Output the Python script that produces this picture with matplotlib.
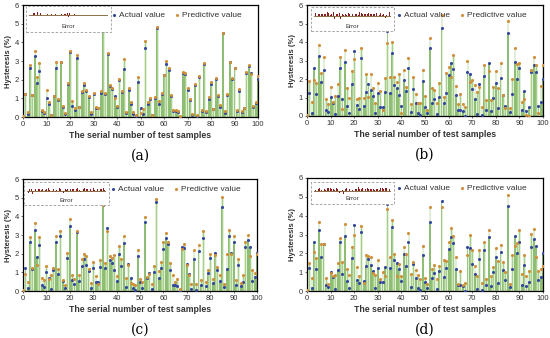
import matplotlib
matplotlib.use("Agg")
import matplotlib.pyplot as plt
import numpy as np
from matplotlib.patches import Rectangle

plt.rcParams["font.family"] = ["Liberation Sans", "DejaVu Sans"]

samples = list(range(0, 101))

actual = [0.0, 1.22, 0.18, 2.6, 1.17, 3.26, 1.82, 2.49, 0.31, 0.22, 1.01,
          0.72, 0.09, 1.1, 2.61, 0.9, 2.92, 0.54, 0.18, 1.75, 3.5,
          0.61, 0.4, 3.15, 0.52, 1.32, 1.71, 1.39, 1.06, 0.18, 1.24,
          0.49, 0.49, 1.28, 4.61, 1.24, 3.39, 1.66, 1.51, 1.15, 0.54,
          1.96, 1.35, 2.58, 0.2, 1.44, 0.68, 0.18, 0.04, 1.89, 0.47,
          0.14, 3.69, 0.68, 0.94, 0.1, 1.04, 4.76, 0.72, 1.24, 2.23,
          2.85, 2.54, 1.15, 0.32, 0.32, 0.25, 0.0, 2.36, 2.29, 1.44,
          0.9, 0.09, 1.71, 0.04, 2.16, 0.31, 2.85, 0.25, 0.99, 1.78,
          0.41, 2.05, 1.12, 0.56, 4.49, 0.22, 1.19, 2.94, 2.02, 2.6,
          0.32, 1.37, 0.27, 0.47, 2.36, 2.74, 2.38, 0.56, 0.74, 2.02]

pred_a = [0.05, 1.25, 0.25, 2.8, 1.2, 3.55, 2.15, 2.9, 0.35, 0.25, 1.45,
          0.8, 0.1, 1.15, 2.97, 0.95, 2.97, 0.6, 0.2, 1.8, 3.52,
          0.85, 0.5, 3.32, 0.55, 1.4, 1.8, 1.45, 1.15, 0.25, 1.3,
          0.55, 0.5, 1.38, 4.65, 1.3, 3.45, 1.72, 1.55, 1.0, 0.6,
          2.05, 1.4, 3.1, 0.25, 1.55, 0.8, 0.25, 0.1, 2.15, 0.2,
          0.45, 4.07, 0.8, 1.0, 0.1, 1.05, 4.8, 0.85, 1.3, 2.25,
          3.0, 2.6, 1.2, 0.35, 0.35, 0.3, 0.05, 2.4, 2.35, 1.55,
          0.95, 0.15, 1.75, 0.1, 2.2, 0.35, 2.87, 0.3, 1.05, 1.85,
          0.45, 2.1, 1.2, 0.65, 4.52, 0.3, 1.25, 2.97, 2.1, 2.62,
          0.35, 1.5, 0.3, 0.5, 2.4, 2.77, 2.3, 0.6, 0.78, 2.2]

pred_b = [0.05, 1.87, 0.77, 1.95, 1.77, 3.86, 2.3, 3.17, 0.9, 0.65, 1.55,
          0.77, 1.1, 1.71, 3.17, 0.38, 3.57, 1.5, 1.0, 2.45, 3.06,
          0.9, 0.95, 3.66, 1.0, 2.27, 1.04, 2.27, 1.5, 0.68, 1.8,
          1.37, 0.32, 2.04, 3.93, 2.13, 4.02, 2.09, 1.86, 2.27, 0.14,
          2.49, 1.55, 3.12, 0.65, 2.13, 1.19, 0.72, 0.68, 2.49, 1.08,
          0.32, 4.2, 1.5, 1.41, 0.68, 1.77, 5.46, 1.04, 2.3, 2.67,
          2.13, 3.3, 1.62, 0.65, 1.19, 0.65, 0.5, 2.99, 1.86, 1.95,
          1.68, 1.32, 1.55, 0.47, 2.74, 0.86, 2.45, 0.86, 1.55, 2.45,
          1.5, 2.88, 1.13, 0.41, 5.15, 0.41, 1.98, 3.69, 2.81, 2.88,
          0.77, 0.9, 0.05, 0.0, 2.49, 3.21, 2.74, 0.18, 1.62, 2.76]

pred_c = [0.05, 0.93, 0.48, 2.88, 1.23, 3.65, 1.37, 2.88, 0.69, 0.57, 1.33,
          0.66, 0.87, 1.25, 2.92, 1.19, 3.22, 0.6, 0.3, 2.05, 3.84,
          0.87, 0.62, 3.24, 0.84, 1.69, 1.99, 1.9, 1.19, 0.44, 1.58,
          0.8, 0.39, 1.64, 4.6, 1.5, 3.24, 1.87, 1.76, 1.94, 0.8,
          2.4, 1.73, 2.97, 0.69, 1.37, 0.43, 0.39, 0.34, 2.17, 0.66,
          0.48, 3.99, 0.75, 0.93, 0.37, 1.32, 4.93, 1.09, 1.55, 2.65,
          3.1, 2.62, 1.51, 0.87, 0.48, 0.66, 0.09, 2.26, 2.53, 1.37,
          0.84, 0.39, 2.17, 0.39, 2.44, 0.57, 3.22, 0.48, 1.1, 1.96,
          0.66, 1.94, 1.28, 0.87, 5.02, 0.37, 1.99, 3.27, 1.99, 2.97,
          0.57, 1.73, 0.43, 0.84, 2.62, 3.02, 1.87, 1.1, 0.98, 1.99]

pred_d = [0.05, 1.51, 0.68, 2.08, 1.73, 3.68, 2.49, 2.47, 0.71, 0.36, 0.98,
          0.77, 0.84, 1.48, 2.81, 1.55, 3.56, 1.19, 0.84, 2.31, 2.99,
          1.3, 0.77, 3.47, 0.44, 1.9, 1.87, 1.83, 0.98, 0.84, 1.64,
          0.62, 1.01, 0.8, 4.36, 1.83, 3.77, 1.96, 0.8, 1.42, 0.77,
          2.35, 1.96, 3.08, 0.89, 1.55, 1.09, 0.84, 0.62, 2.4, 0.71,
          0.36, 4.48, 1.16, 1.37, 0.62, 1.33, 4.45, 1.65, 1.6, 2.62,
          3.33, 2.94, 1.78, 0.36, 1.07, 0.3, 0.44, 1.9, 2.99, 2.17,
          1.33, 0.8, 2.17, 0.44, 2.62, 0.66, 3.24, 0.8, 1.3, 2.26,
          1.6, 2.44, 1.55, 1.01, 5.11, 0.36, 1.9, 2.37, 2.54, 3.24,
          0.89, 1.9, 0.77, 1.07, 3.02, 3.29, 1.83, 1.07, 1.16, 1.33]

panel_labels = ["(a)", "(b)", "(c)", "(d)"]
predictions = [pred_a, pred_b, pred_c, pred_d]

# layout in pixels (left, top, right, bottom)
axes_px = [(23, 5, 258, 117), (307, 5, 543, 116),
           (23, 179, 257, 291), (307, 178, 543, 291)]
inset_px = [(26, 6, 111, 32), (311, 7, 394, 31),
            (24, 182, 109, 205), (311, 182, 394, 204)]

W, H = 550, 338
fig = plt.figure(figsize=(W / 100, H / 100), dpi=100)

blue = "#34489c"
orange = "#d08f3a"

x = np.array(samples)
act = np.array(actual)

for i in range(4):
    l, t, r, b = axes_px[i]
    ax = fig.add_axes([l / W, 1 - b / H, (r - l) / W, (b - t) / H])
    pred = np.array(predictions[i])
    ax.bar(x - 0.15, act, width=0.28, color="#a9d18e", edgecolor="#5e9e3e", linewidth=0.4, zorder=1)
    ax.bar(x + 0.15, pred, width=0.28, color="#c9e4b6", edgecolor="#86bb62", linewidth=0.35, zorder=1)
    ax.scatter(x, act, s=5, color=blue, zorder=3, label="Actual value", linewidths=0)
    ax.scatter(x, pred, s=5, color=orange, zorder=3, label="Predictive value", linewidths=0)
    ax.set_xlim(0, 100)
    ax.set_ylim(0, 6)
    ax.set_xticks(range(0, 101, 10))
    ax.set_yticks(range(0, 7))
    ax.tick_params(labelsize=5.5, length=1.5, width=0.5, pad=1.5, colors="#333333")
    for s in ax.spines.values():
        s.set_linewidth(0.9)
        s.set_color("black")
    ax.set_xlabel("The serial number of test samples", fontsize=6.3, fontweight="bold", labelpad=2, color="#333333")
    ax.set_ylabel("Hysteresis (%)", fontsize=5.5, fontweight="bold", labelpad=2, color="#333333")
    leg = ax.legend(loc="upper right", ncol=2, frameon=False, fontsize=6.0, handletextpad=0.2,
                    handlelength=0.8, columnspacing=1.0, markerscale=1.0,
                    bbox_to_anchor=(0.955, 1.0), borderaxespad=0.35)
    for txt in leg.get_texts():
        txt.set_color("#333333")
    cx = (l + r) / 2 / W
    fig.text(cx, 1 - (b + 39) / H, panel_labels[i], ha="center", va="center",
             fontsize=10, family="DejaVu Serif")

    # inset box
    il, it, ir, ib = inset_px[i]
    box = Rectangle((il / W, 1 - ib / H), (ir - il) / W, (ib - it) / H,
                    transform=fig.transFigure, fill=True, facecolor="white",
                    edgecolor="#999999", linestyle=(0, (3, 2)), linewidth=0.6, zorder=5)
    fig.patches.append(box)
    iax = fig.add_axes([(il + 3) / W, 1 - (it + 14) / H, (ir - il - 6) / W, 10 / H], zorder=6)
    err = pred - act
    iax.bar(x, err, width=0.6, color="#8b1a1a", linewidth=0)
    iax.axhline(0, color="#7a5a2a", linewidth=0.6)
    iax.set_xlim(-1, 101)
    lim = max(0.8, np.abs(err).max())
    iax.set_ylim(-lim, lim)
    iax.axis("off")
    fig.text((il + ir) / 2 / W, 1 - (ib - 5) / H, "Error", ha="center", va="center",
             fontsize=4.5, color="#333333", zorder=7)

fig.savefig("out.png", dpi=100)
